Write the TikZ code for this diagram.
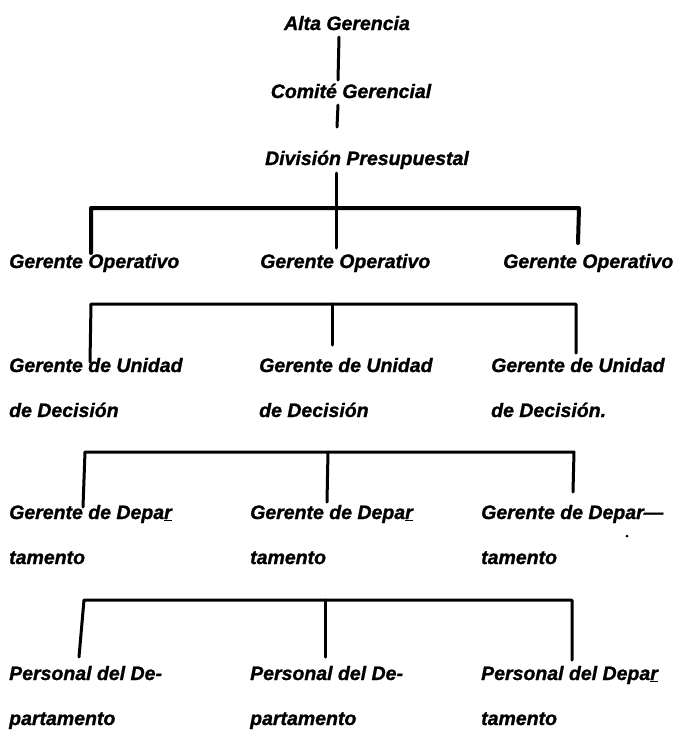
\documentclass[tikz,border=0pt]{standalone}
\usepackage{fontspec}
\setmainfont{Liberation Sans}[BoldItalicFeatures={FakeBold=1.2}]
\begin{document}
\begin{tikzpicture}[x=1pt,y=-1pt,
  lbl/.style={inner sep=0pt, anchor=base west, align=left,
    font=\fontsize{19.5}{45}\selectfont\bfseries\itshape},
  ttl/.style={inner sep=0pt, anchor=base,
    font=\fontsize{19.5}{45}\selectfont\bfseries\itshape},
  conn/.style={line width=3pt, line cap=round, line join=round},
  barline/.style={line width=3pt, line cap=round, line join=round}]
\useasboundingbox (0,0) rectangle (675,732);
% titles
\node[ttl] (alta) at (347,30) {Alta Gerencia};
\node[ttl] (comite) at (351,98) {Comité Gerencial};
\node[ttl] (div) at (367,165) {División Presupuestal};
% level 1
\node[lbl] (op1) at (9,268) {Gerente Operativo};
\node[lbl] (op2) at (260,268) {Gerente Operativo};
\node[lbl] (op3) at (503,268) {Gerente Operativo};
% level 2 (base anchor = last line)
\node[lbl] (un1) at (9,417) {Gerente de Unidad\\de Decisión};
\node[lbl] (un2) at (259,417) {Gerente de Unidad\\de Decisión};
\node[lbl] (un3) at (491,417) {Gerente de Unidad\\de Decisión.};
% level 3
\node[lbl] (dp1) at (9,564) {Gerente de Depa\underline{r}\\tamento};
\node[lbl] (dp2) at (250,564) {Gerente de Depa\underline{r}\\tamento};
\node[lbl] (dp3) at (481,564) {Gerente de Depar—\\tamento};
% level 4
\node[lbl] (ps1) at (9,725) {Personal del De-\\partamento};
\node[lbl] (ps2) at (250,725) {Personal del De-\\partamento};
\node[lbl] (ps3) at (481,725) {Personal del Depa\underline{r}\\tamento};
% coordinates
\coordinate (a1) at (339,37); \coordinate (a2) at (338,80);
\coordinate (c1) at (338,105); \coordinate (c2) at (337,127);
\coordinate (d1) at (336,173);
\coordinate (b1l) at (91,208); \coordinate (b1r) at (579,208);
\coordinate (e1l) at (91,253); \coordinate (e1m) at (336,248); \coordinate (e1r) at (578,243);
\coordinate (b2l) at (91,304); \coordinate (b2m) at (332,304); \coordinate (b2r) at (576,304);
\coordinate (e2l) at (90,362); \coordinate (e2m) at (332,345); \coordinate (e2r) at (576,353);
\coordinate (b3l) at (85,452); \coordinate (b3m) at (328,452); \coordinate (b3r) at (574,452);
\coordinate (e3l) at (83,507); \coordinate (e3m) at (327,502); \coordinate (e3r) at (573,492);
\coordinate (b4l) at (84,600); \coordinate (b4m) at (325,600); \coordinate (b4r) at (572,600);
\coordinate (e4l) at (79,657); \coordinate (e4m) at (325,657); \coordinate (e4r) at (572,660);
% connectors
\draw[conn] (a1) -- (a2);
\draw[conn] (c1) -- (c2);
\draw[conn] (d1) -- (e1m);
\draw[barline, line width=4pt] (e1l) -- (b1l) -- (b1r) -- (e1r);
\draw[barline] (e2l) -- (b2l) -- (b2r) -- (e2r);
\draw[conn] (b2m) -- (e2m);
\draw[barline] (e3l) -- (b3l) -- (b3r) -- (e3r);
\draw[conn] (b3m) -- (e3m);
\draw[barline] (e4l) -- (b4l) -- (b4r) -- (e4r);
\draw[conn] (b4m) -- (e4m);
\fill (627,536) circle (1.5);
\end{tikzpicture}
\end{document}
